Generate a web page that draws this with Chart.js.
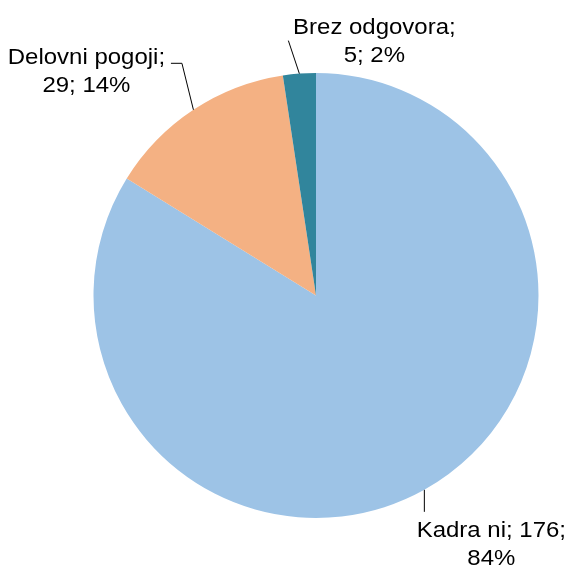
<!DOCTYPE html>
<html>
<head>
<meta charset="utf-8">
<script src="https://cdn.jsdelivr.net/npm/chart.js@4/dist/chart.umd.min.js"></script>
<style>
  html, body { margin: 0; padding: 0; background: #fff; }
  #wrap { width: 567px; height: 565px; }
</style>
</head>
<body>
<div id="wrap"><canvas id="pie" width="567" height="565"></canvas></div>
<script>
const categories = ["Kadra ni", "Delovni pogoji", "Brez odgovora"];
const counts = [176, 29, 5];
const percents = [84, 14, 2];
const colors = ["#9DC3E6", "#F4B183", "#31859C"];

// label placement relative to the slice's outer midpoint (line points, text centre, baselines)
// split = how many parts go on the first text line
const labelLayout = [
    { line: [[0, 22]], tx: 67, ty: 47, split: 2 },
    { line: [[-11.5, -46.5], [-22.5, -46.5]], tx: -107, ty: -45.5, split: 1 },
    { line: [[-11, -33]], tx: 75, ty: -40, split: 1 }
];

const lineGap = 28;
const textStretch = 1.09;

const labelPlugin = {
    id: "pieLabels",
    afterDraw(chart) {
        const ctx = chart.ctx;
        const meta = chart.getDatasetMeta(0);
        ctx.save();
        ctx.font = "22px 'Liberation Sans', Arial, sans-serif";
        ctx.fillStyle = "#000";
        ctx.strokeStyle = "#000";
        ctx.lineWidth = 1;
        ctx.textAlign = "center";
        ctx.textBaseline = "alphabetic";

        meta.data.forEach((arc, i) => {
            const p = arc.getProps(["x", "y", "startAngle", "endAngle", "outerRadius"], true);
            const mid = (p.startAngle + p.endAngle) / 2;
            const ax = p.x + Math.cos(mid) * p.outerRadius;
            const ay = p.y + Math.sin(mid) * p.outerRadius;
            const lay = labelLayout[i];

            ctx.beginPath();
            ctx.moveTo(ax, ay);
            lay.line.forEach(pt => ctx.lineTo(ax + pt[0], ay + pt[1]));
            ctx.stroke();

            const parts = [categories[i], String(counts[i]), percents[i] + "%"];
            const first = parts.slice(0, lay.split).join("; ") + ";";
            const second = parts.slice(lay.split).join("; ");

            ctx.save();
            ctx.translate(ax + lay.tx, ay + lay.ty);
            ctx.scale(textStretch, 1);
            ctx.fillText(first, 0, 0);
            ctx.fillText(second, 0, lineGap);
            ctx.restore();
        });
        ctx.restore();
    }
};

new Chart(document.getElementById("pie"), {
    type: "pie",
    data: {
        labels: categories,
        datasets: [{
            data: counts,
            backgroundColor: colors,
            borderWidth: 0
        }]
    },
    options: {
        responsive: false,
        animation: false,
        layout: {
            padding: { left: 93, right: 28, top: 73, bottom: 47 }
        },
        plugins: {
            legend: { display: false },
            tooltip: { enabled: false }
        }
    },
    plugins: [labelPlugin]
});
</script>
</body>
</html>
